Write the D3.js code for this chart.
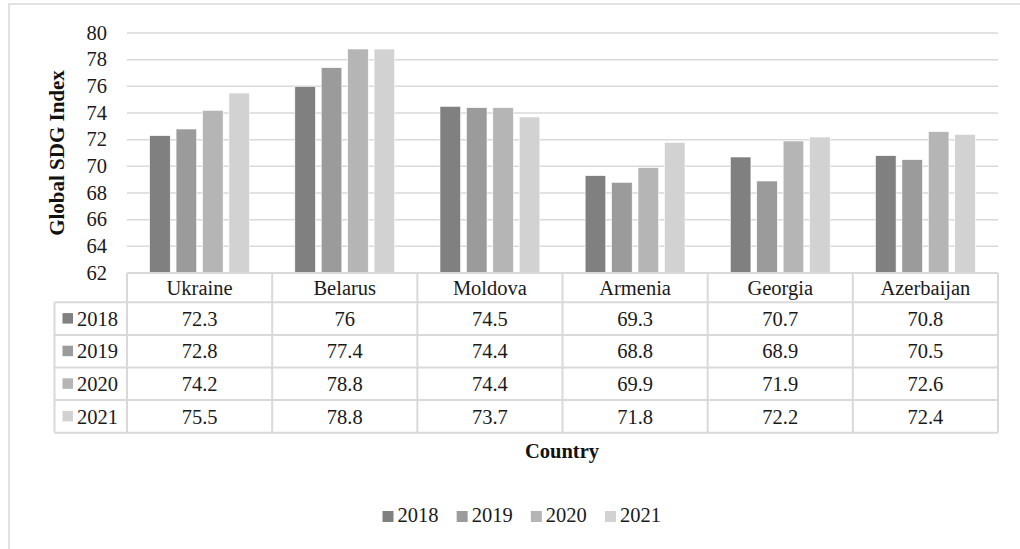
<!DOCTYPE html>
<html>
<head>
<meta charset="utf-8">
<script src="https://cdn.jsdelivr.net/npm/d3@7"></script>
<style>
  html, body { margin: 0; padding: 0; background: #ffffff; }
  svg { display: block; }
  svg text { font-family: 'Liberation Serif', 'DejaVu Serif', 'Noto Serif', serif; }
</style>
</head>
<body>
<svg id="chart" width="1020" height="549"></svg>
<script>
// Global SDG Index by country, 2018–2021
const countries = ["Ukraine", "Belarus", "Moldova", "Armenia", "Georgia", "Azerbaijan"];
const years = ["2018", "2019", "2020", "2021"];
const values2018 = [72.3, 76, 74.5, 69.3, 70.7, 70.8];
const values2019 = [72.8, 77.4, 74.4, 68.8, 68.9, 70.5];
const values2020 = [74.2, 78.8, 74.4, 69.9, 71.9, 72.6];
const values2021 = [75.5, 78.8, 73.7, 71.8, 72.2, 72.4];
const yTicks = [62, 64, 66, 68, 70, 72, 74, 76, 78, 80];
const seriesColors = ["#808080", "#9b9b9b", "#b5b5b5", "#d2d2d2"];

const series = [values2018, values2019, values2020, values2021];

const svg = d3.select("#chart");
const serif = "'Liberation Serif', 'DejaVu Serif', 'Noto Serif', serif";
const lineColor = "#d9d9d9";
const fontSize = 20.5;

// Plot frame
const plot = { left: 127, right: 998, top: 33, bottom: 273 };
const rowHeight = 32.6;
const headerHeight = 29.3;
const legendColLeft = 54.5;

// Outer chart border (top and left edges visible)
svg.append("path")
  .attr("d", "M9,552 L9,4 L1024,4")
  .attr("fill", "none")
  .attr("stroke", lineColor)
  .attr("stroke-width", 1.5);

const y = d3.scaleLinear().domain([62, 80]).range([plot.bottom, plot.top]);
const x0 = d3.scaleBand().domain(countries).range([plot.left, plot.right]);
const groupPad = x0.bandwidth() * 0.156;
const x1 = d3.scaleBand().domain(years)
  .range([groupPad, x0.bandwidth() - groupPad])
  .paddingInner(0.22);
const color = d3.scaleOrdinal().domain(years).range(seriesColors);

// Gridlines
svg.append("g")
  .selectAll("line")
  .data(yTicks.filter(t => t > 62))
  .join("line")
  .attr("x1", plot.left).attr("x2", plot.right)
  .attr("y1", d => y(d)).attr("y2", d => y(d))
  .attr("stroke", lineColor)
  .attr("stroke-width", 1.5);

// Y axis labels
const yAxis = d3.axisLeft(y).tickValues(yTicks).tickSize(0).tickPadding(0);
const yAxisG = svg.append("g")
  .attr("transform", `translate(107,0)`)
  .call(yAxis)
  .attr("font-family", serif);
yAxisG.select(".domain").remove();
yAxisG.selectAll("text")
  .attr("font-family", serif)
  .attr("font-size", fontSize)
  .attr("fill", "#1a1a1a")
  .attr("dy", "0.3em");

// Y axis title
svg.append("text")
  .attr("transform", `translate(64,153) rotate(-90)`)
  .attr("text-anchor", "middle")
  .attr("font-family", serif)
  .attr("font-size", 21)
  .attr("font-weight", "bold")
  .attr("fill", "#111")
  .text("Global SDG Index");

// Bars
const groups = svg.append("g")
  .selectAll("g")
  .data(countries)
  .join("g")
  .attr("transform", d => `translate(${x0(d)},0)`);

groups.selectAll("rect")
  .data((c, ci) => years.map((yr, si) => ({ year: yr, value: series[si][ci] })))
  .join("rect")
  .attr("x", d => x1(d.year))
  .attr("width", x1.bandwidth())
  .attr("y", d => y(d.value))
  .attr("height", d => y(62) - y(d.value))
  .attr("fill", d => color(d.year))
  .attr("stroke", "#ffffff")
  .attr("stroke-width", 0.6);

// Data table
const table = svg.append("g");
const tableTop = plot.bottom;
const rowsTop = tableTop + headerHeight;
const tableBottom = rowsTop + rowHeight * years.length;

// Horizontal table lines
table.append("line")
  .attr("x1", plot.left).attr("x2", plot.right)
  .attr("y1", tableTop).attr("y2", tableTop);
years.forEach((yr, i) => {
  table.append("line")
    .attr("x1", legendColLeft).attr("x2", plot.right)
    .attr("y1", rowsTop + rowHeight * i).attr("y2", rowsTop + rowHeight * i);
});
table.append("line")
  .attr("x1", legendColLeft).attr("x2", plot.right)
  .attr("y1", tableBottom).attr("y2", tableBottom);

// Vertical table lines
table.append("line")
  .attr("x1", legendColLeft).attr("x2", legendColLeft)
  .attr("y1", rowsTop).attr("y2", tableBottom);
countries.forEach(c => {
  table.append("line")
    .attr("x1", x0(c)).attr("x2", x0(c))
    .attr("y1", tableTop).attr("y2", tableBottom);
});
table.append("line")
  .attr("x1", plot.right).attr("x2", plot.right)
  .attr("y1", tableTop).attr("y2", tableBottom);

table.selectAll("line")
  .attr("stroke", lineColor)
  .attr("stroke-width", 2);

// Column headers
table.selectAll("text.hdr")
  .data(countries)
  .join("text")
  .attr("class", "hdr")
  .attr("x", d => x0(d) + x0.bandwidth() / 2)
  .attr("y", tableTop + headerHeight / 2)
  .attr("dy", "0.35em")
  .attr("text-anchor", "middle")
  .attr("font-family", serif)
  .attr("font-size", fontSize)
  .attr("fill", "#1a1a1a")
  .text(d => d);

// Row legend keys and values
years.forEach((yr, si) => {
  const cy = rowsTop + rowHeight * si + rowHeight / 2;
  table.append("rect")
    .attr("x", 62.5).attr("y", cy - 5.5)
    .attr("width", 10.5).attr("height", 10.5)
    .attr("fill", color(yr));
  table.append("text")
    .attr("x", 77).attr("y", cy)
    .attr("dy", "0.35em")
    .attr("font-family", serif)
    .attr("font-size", fontSize)
    .attr("fill", "#1a1a1a")
    .text(yr);
  table.selectAll(null)
    .data(countries)
    .join("text")
    .attr("x", d => x0(d) + x0.bandwidth() / 2)
    .attr("y", cy)
    .attr("dy", "0.35em")
    .attr("text-anchor", "middle")
    .attr("font-family", serif)
    .attr("font-size", fontSize)
    .attr("fill", "#1a1a1a")
    .text((d, ci) => String(series[si][ci]));
});

// X axis title
svg.append("text")
  .attr("x", 562).attr("y", 458)
  .attr("text-anchor", "middle")
  .attr("font-family", serif)
  .attr("font-size", 20.5)
  .attr("font-weight", "bold")
  .attr("fill", "#111")
  .text("Country");

// Legend
const legendX = d3.scalePoint().domain(years).range([382.5, 605]);
const legend = svg.append("g")
  .selectAll("g")
  .data(years)
  .join("g")
  .attr("transform", d => `translate(${legendX(d)},511)`);
legend.append("rect")
  .attr("width", 11).attr("height", 11)
  .attr("fill", d => color(d));
legend.append("text")
  .attr("x", 15).attr("y", 11.3)
  .attr("font-family", serif)
  .attr("font-size", fontSize)
  .attr("fill", "#1a1a1a")
  .text(d => d);
</script>
</body>
</html>
